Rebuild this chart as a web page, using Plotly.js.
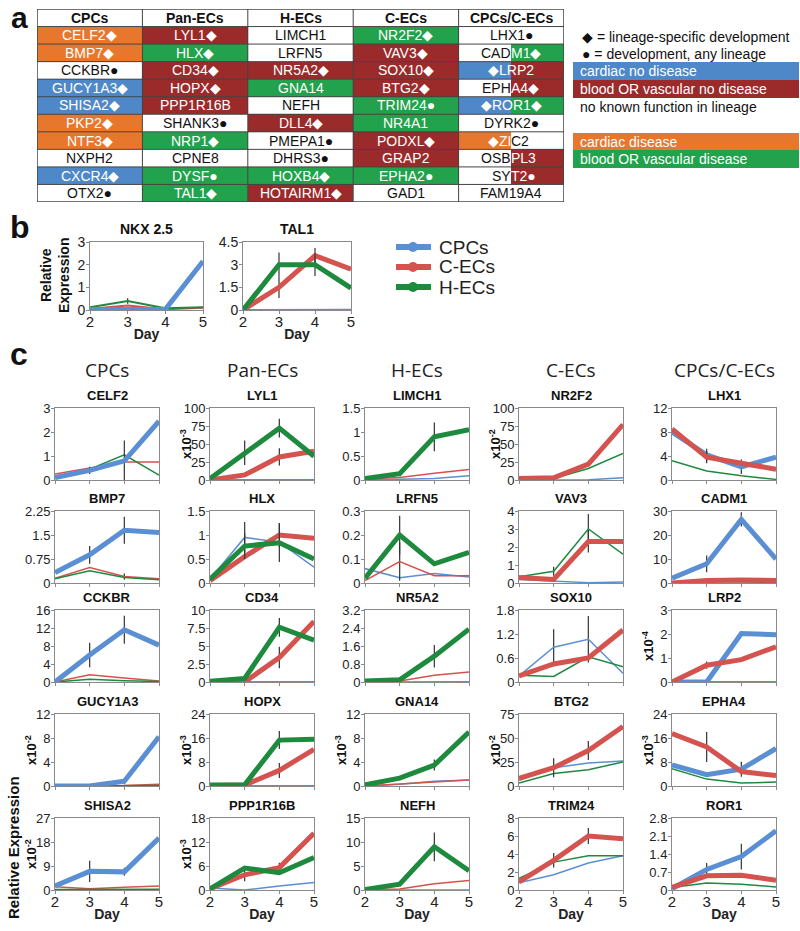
<!DOCTYPE html>
<html>
<head>
<meta charset="utf-8">
<script src="https://cdn.plot.ly/plotly-3.0.1.min.js"></script>
<style>body{margin:0;background:#fff;} #chart{width:800px;height:931px;}</style>
</head>
<body>
<div id="chart"></div>
<script>
// ---------- panel a : gene table ----------
var tableHeaders = ["CPCs", "Pan-ECs", "H-ECs", "C-ECs", "CPCs/C-ECs"];
var cpcGenes = ["CELF2◆", "BMP7◆", "CCKBR●", "GUCY1A3◆", "SHISA2◆", "PKP2◆", "NTF3◆", "NXPH2", "CXCR4◆", "OTX2●"];
var cpcColors = ["O", "O", "W", "B", "B", "O", "O", "W", "B", "W"];
var panGenes = ["LYL1◆", "HLX◆", "CD34◆", "HOPX◆", "PPP1R16B", "SHANK3●", "NRP1◆", "CPNE8", "DYSF●", "TAL1◆"];
var panColors = ["R", "G", "R", "R", "R", "W", "G", "W", "G", "G"];
var hecGenes = ["LIMCH1", "LRFN5", "NR5A2◆", "GNA14", "NEFH", "DLL4◆", "PMEPA1●", "DHRS3●", "HOXB4◆", "HOTAIRM1◆"];
var hecColors = ["W", "W", "R", "G", "W", "R", "W", "W", "G", "R"];
var cecGenes = ["NR2F2◆", "VAV3◆", "SOX10◆", "BTG2◆", "TRIM24●", "NR4A1", "PODXL◆", "GRAP2", "EPHA2●", "GAD1"];
var cecColors = ["G", "R", "R", "R", "G", "G", "R", "R", "G", "W"];
// last column: cells are split in two halves
var sharedLeftText = ["LHX1●", "CAD", "◆LRP2", "EPH", "◆ROR1◆", "DYRK2●", "◆ZI", "OSB", "SY", "FAM19A4"];
var sharedRightText = ["", "M1◆", "", "A4◆", "", "", "C2", "PL3", "T2●", ""];
var sharedLeftColors = ["W", "W", "B", "W", "B", "W", "O", "W", "W", "W"];
var sharedRightColors = ["W", "G", "R", "R", "G", "W", "W", "R", "R", "W"];

var keyLabels = ["cardiac no disease", "blood OR vascular no disease", "no known function in lineage", "cardiac disease", "blood OR vascular disease"];
var keyColors = ["B", "R", "W", "O", "G"];

// ---------- panel b ----------
var days = [2, 3, 4, 5];
var seriesNames = ["CPCs", "C-ECs", "H-ECs"];
var bGenes = ["NKX 2.5", "TAL1"];
var bCpc = [[0.02, 0.02, 0.03, 2.15], [0, 0, 0, 0.02]];
var bCec = [[0.05, 0.2, 0.03, 0.1], [0, 1.5, 3.6, 2.7]];
var bHec = [[0.12, 0.4, 0.08, 0.12], [0, 3.0, 3.0, 1.45]];
var bErrCpc = [[0, 0, 0, 0], [0, 0, 0, 0]];
var bErrCec = [[0, 0, 0, 0], [0, 0.7, 0.5, 0]];
var bErrHec = [[0, 0.12, 0, 0], [0, 0.8, 0.75, 0]];
var bMax = [3, 4.5];
var bStep = [1, 1.5];

// ---------- panel c (row by row, 5 per row) ----------
var cColumns = ["CPCs", "Pan-ECs", "H-ECs", "C-ECs", "CPCs/C-ECs"];
var cGenes = ["CELF2", "LYL1", "LIMCH1", "NR2F2", "LHX1",
  "BMP7", "HLX", "LRFN5", "VAV3", "CADM1",
  "CCKBR", "CD34", "NR5A2", "SOX10", "LRP2",
  "GUCY1A3", "HOPX", "GNA14", "BTG2", "EPHA4",
  "SHISA2", "PPP1R16B", "NEFH", "TRIM24", "ROR1"];
var cMax = [3, 100, 1.5, 100, 12,
  2.25, 1.5, 0.3, 4, 30,
  16, 10, 3.2, 1.8, 3,
  12, 24, 12, 75, 24,
  27, 18, 15, 8, 2.8];
var cStep = [1, 25, 0.5, 25, 4,
  0.75, 0.5, 0.1, 1, 10,
  4, 2.5, 0.8, 0.6, 1,
  4, 8, 4, 25, 8,
  9, 6, 5, 2, 0.7];
var cScale = ["", "-3", "", "-2", "",
  "", "", "", "", "",
  "", "", "", "", "-4",
  "-2", "-3", "-3", "-2", "-3",
  "-2", "-3", "", "", ""];

var cCpc = [
  [0.1, 0.4, 0.8, 2.45], [0.4, 0.4, 0.4, 0.4], [0, 0.02, 0.03, 0.09], [0, 0, 0.3, 3], [8, 4.2, 2.2, 3.8],
  [0.33, 0.88, 1.65, 1.58], [0.08, 0.95, 0.85, 0.33], [0.06, 0.022, 0.04, 0.025], [0.2, 0.1, 0.02, 0.05], [2, 8, 26.5, 10],
  [0, 6, 11.6, 8.2], [0, 0, 0.02, 0.05], [0, 0, 0.01, 0.01], [0.15, 0.87, 1.07, 0.22], [0, 0, 2.02, 1.97],
  [0, 0, 0.8, 8.2], [0, 0, 0.1, 0.1], [0, 0.3, 0.8, 1.0], [6, 19, 24, 26], [7, 3.8, 5.6, 12.5],
  [1.5, 7, 6.8, 19.5], [0.5, 0, 1, 1.9], [0, 0, 0, 0], [0.8, 1.7, 3.0, 3.8], [0.05, 0.8, 1.3, 2.3]];
var cCec = [
  [0.25, 0.5, 0.75, 0.75], [0, 7, 32, 40], [0.02, 0.05, 0.14, 0.22], [2, 3, 22, 77], [8.5, 3.8, 2.8, 1.8],
  [0.15, 0.48, 0.2, 0.13], [0.05, 0.55, 1.0, 0.93], [0.01, 0.089, 0.03, 0.03], [0.3, 0.2, 2.3, 2.3], [0, 1, 1.3, 1],
  [0, 1.6, 0.9, 0.2], [0, 0, 3.4, 8.4], [0, 0.05, 0.3, 0.45], [0.15, 0.45, 0.6, 1.3], [0, 0.7, 0.93, 1.47],
  [0.05, 0.05, 0.1, 0.3], [0.2, 0.3, 5.2, 12.2], [0, 0.3, 0.6, 1.0], [8, 19, 37, 62], [17.5, 13, 4.8, 3.5],
  [1.2, 0.5, 1.0, 1.5], [0.3, 3.8, 5.6, 14.2], [0, 0.2, 1.3, 2.0], [0.9, 3.3, 6.0, 5.7], [0.1, 0.55, 0.57, 0.38]];
var cHec = [
  [0.1, 0.45, 1.05, 0.2], [2, 38, 72, 33], [0.03, 0.13, 0.9, 1.05], [0, 2, 16, 37], [3.2, 1.5, 0.7, 0.1],
  [0.13, 0.38, 0.17, 0.1], [0.08, 0.77, 0.84, 0.5], [0.02, 0.2, 0.08, 0.128], [0.35, 0.65, 3.0, 1.6], [0, 0.5, 0.5, 0.2],
  [0, 0.6, 0.3, 0.1], [0.1, 0.5, 7.6, 5.8], [0.05, 0.1, 1.15, 2.35], [0.17, 0.14, 0.63, 0.38], [0, 0, 0, 0],
  [0, 0, 0.05, 0.1], [0.3, 0.4, 15.3, 15.6], [0.2, 1.3, 3.5, 9], [3, 13, 17, 25], [5.8, 2.3, 1.0, 1.3],
  [0.2, 0.2, 0.3, 0.3], [0.3, 5.5, 4.3, 8.1], [0.1, 1.2, 9, 4], [1.3, 3.1, 3.8, 3.8], [0.1, 0.27, 0.22, 0.12]];

// error bar half lengths
var z4 = [0, 0, 0, 0];
var cErrCpc = [
  [0, 0.15, 0.85, 0], z4, z4, z4, [0, 1.0, 1.2, 0],
  [0, 0.28, 0.42, 0], [0, 0.32, 0, 0], z4, z4, [0, 3.5, 3.0, 0],
  [0, 2.7, 3.1, 0], z4, z4, [0, 0.45, 0.58, 0], z4,
  [0, 0, 0.5, 0], z4, z4, z4, [0, 0, 2.5, 0],
  [0, 4, 1.5, 0], z4, z4, z4, [0, 0.25, 0.5, 0]];
var cErrCec = [
  z4, [0, 0, 12, 0], z4, [0, 0, 3, 0], [0, 1.0, 0, 0],
  [0, 0, 0.1, 0], [0, 0, 0.25, 0], [0, 0.08, 0, 0], [0, 0, 0.6, 0], z4,
  z4, [0, 0, 1.5, 0], z4, z4, [0, 0.15, 0, 0],
  z4, [0, 0, 2.5, 0], z4, [0, 10, 10, 0], [0, 5, 0, 0],
  z4, [0, 1.6, 1.2, 0], z4, [0, 0.8, 0.9, 0], z4];
var cErrHec = [
  z4, [0, 17, 13, 0], [0, 0.05, 0.3, 0], z4, z4,
  z4, [0, 0.27, 0.4, 0], [0, 0.08, 0, 0], [0, 0.25, 0.83, 0], z4,
  z4, [0, 0, 1.3, 0], [0, 0, 0.5, 0], z4, z4,
  z4, [0, 0, 3, 0], [0, 0, 0.9, 0], z4, z4,
  z4, z4, [0, 0, 3, 0], z4, z4];

// which series are drawn thick (cpc, cec, hec) per column
var cThick = [[true, false, false], [false, true, true], [false, false, true], [false, true, false], [true, true, false]];
var bThick = [[true, false, false], [false, true, true]];

// ---------- styles ----------
var W = 800, H = 931;
var FONT = "Liberation Sans, Arial, sans-serif";
var lineColors = ["#5b8fd4", "#d4534f", "#1d8a3e"];
var palette = {W: "#ffffff", O: "#e8772e", G: "#22a24c", B: "#4f88c9", R: "#9b2a2b"};
var code = {W: 0, O: 1, G: 2, B: 3, R: 4};
var axisGray = "#8a8a8a";

function xd(a, b) { return [a / W, b / W]; }
function yd(top, bot) { return [1 - bot / H, 1 - top / H]; }
function px(x) { return x / W; }
function py(y) { return 1 - y / H; }

var traces = [];
var layout = {
  width: W, height: H, margin: {l: 0, r: 0, t: 0, b: 0},
  paper_bgcolor: "#fff", plot_bgcolor: "rgba(0,0,0,0)",
  font: {family: FONT, color: "#222"},
  showlegend: false,
  annotations: [], shapes: []
};

function note(x, y, text, size, opts) {
  var a = {xref: "paper", yref: "paper", x: px(x), y: py(y), text: text, showarrow: false,
    xanchor: "center", yanchor: "middle", font: {size: size, color: "#111"}};
  for (var k in (opts || {})) a[k] = opts[k];
  layout.annotations.push(a);
}

function addLine(n, y, err, s, thick, thinW) {
  traces.push({
    x: days, y: y, type: "scatter", mode: "lines",
    xaxis: n === 1 ? "x" : "x" + n, yaxis: n === 1 ? "y" : "y" + n,
    line: {color: lineColors[s], width: thick ? 5 : thinW},
    error_y: {type: "data", array: err, visible: true, color: "#333", thickness: 1.2, width: 0},
    showlegend: false, hoverinfo: "skip"
  });
}

function addAxes(n, xpx, ypx, yMax, step, opts) {
  var xs = n === 1 ? "xaxis" : "xaxis" + n, ys = n === 1 ? "yaxis" : "yaxis" + n;
  layout[xs] = {
    domain: xd(xpx[0], xpx[1]), range: [2, 5], anchor: n === 1 ? "y" : "y" + n,
    showline: true, mirror: true, linecolor: axisGray, linewidth: 1,
    ticks: "outside", ticklen: 3, tickcolor: axisGray, tickvals: days, ticklabelstandoff: -5,
    showticklabels: opts.xlabels, tickfont: {size: 15, color: "#222"},
    showgrid: false, zeroline: false, fixedrange: true
  };
  if (opts.xlabels) layout[xs].title = {text: "<b>Day</b>", font: {size: 14, color: "#222"}, standoff: 0};
  layout[ys] = {
    domain: yd(ypx[0], ypx[1]), range: [0, yMax], anchor: n === 1 ? "x" : "x" + n,
    showline: true, mirror: true, linecolor: axisGray, linewidth: 1,
    ticks: "outside", ticklen: 3, tickcolor: axisGray, tick0: 0, dtick: step, ticklabelstandoff: -2,
    tickfont: {size: opts.tickSize, color: "#222"},
    showgrid: false, zeroline: false, fixedrange: true
  };
  note((xpx[0] + xpx[1]) / 2, ypx[0] - 3, "<b>" + opts.title + "</b>", opts.titleSize, {yanchor: "bottom"});
  if (opts.scale) {
    note(xpx[0] - 24, (ypx[0] + ypx[1]) / 2, "<b>x10<sup>" + opts.scale + "</sup></b>", 13, {textangle: -90});
  }
}

// ----- panel b -----
var bX = [[90, 203], [243, 351]];
for (var i = 0; i < 2; i++) {
  var n = i + 1;
  addAxes(n, bX[i], [242, 310], bMax[i], bStep[i], {xlabels: true, tickSize: 14, title: bGenes[i], titleSize: 14});
  var vals = [bCpc[i], bCec[i], bHec[i]], errs = [bErrCpc[i], bErrCec[i], bErrHec[i]];
  for (var pass = 0; pass < 2; pass++) {
    for (var s = 0; s < 3; s++) {
      if (bThick[i][s] === (pass === 1)) addLine(n, vals[s], errs[s], s, bThick[i][s], 2);
    }
  }
}
note(55, 276, "<b>Relative<br>Expression</b>", 14, {textangle: -90});
// series key for panel b
var keyY = [247, 267, 287];
for (var s = 0; s < 3; s++) {
  layout.shapes.push({type: "line", xref: "paper", yref: "paper", x0: px(396), x1: px(431), y0: py(keyY[s]), y1: py(keyY[s]),
    line: {color: lineColors[s], width: 6}});
  layout.shapes.push({type: "circle", xref: "paper", yref: "paper", x0: px(408), x1: px(418), y0: py(keyY[s] + 5), y1: py(keyY[s] - 5),
    fillcolor: lineColors[s], line: {width: 0}});
  note(437, keyY[s], seriesNames[s], 19, {xanchor: "left", font: {size: 19, color: "#222"}});
}

// ----- panel c -----
var colLeft = [55, 210, 365, 519, 672], colW = 104;
var rowTop = [408, 511, 610, 714, 818], rowH = 72;
for (var k = 0; k < 25; k++) {
  var r = Math.floor(k / 5), c = k % 5, n = k + 3;
  addAxes(n, [colLeft[c], colLeft[c] + colW], [rowTop[r], rowTop[r] + rowH], cMax[k], cStep[k],
    {xlabels: r === 4, tickSize: 13, title: cGenes[k], titleSize: 13, scale: cScale[k]});
  var vals = [cCpc[k], cCec[k], cHec[k]], errs = [cErrCpc[k], cErrCec[k], cErrHec[k]];
  for (var pass = 0; pass < 2; pass++) {
    for (var s = 0; s < 3; s++) {
      if (cThick[c][s] === (pass === 1)) addLine(n, vals[s], errs[s], s, cThick[c][s], 1.5);
    }
  }
}
for (var c = 0; c < 5; c++) {
  note(colLeft[c] + colW / 2, 370, cColumns[c], 19, {font: {family: "Open Sans, sans-serif", size: 19, color: "#222"}});
}
note(13, 848, "<b>Relative Expression</b>", 15, {textangle: -90});

// ----- panel a table (heatmap on its own axes) -----
var T = 28;
var tableCols = [[cpcGenes, cpcColors], [panGenes, panColors], [hecGenes, hecColors], [cecGenes, cecColors]];
var z = [[0, 0, 0, 0, 0, 0, 0, 0, 0, 0]];
for (var r = 0; r < 10; r++) {
  var row = [];
  tableCols.forEach(function (tc) { row.push(code[tc[1][r]], code[tc[1][r]]); });
  row.push(code[sharedLeftColors[r]], code[sharedRightColors[r]]);
  z.push(row);
}
var halfX = [], rowY = [];
for (var i = 0; i < 10; i++) halfX.push(i * 0.5 + 0.25);
for (var i = 0; i < 11; i++) rowY.push(i + 0.5);
traces.push({type: "heatmap", z: z, x: halfX, y: rowY, xaxis: "x" + T, yaxis: "y" + T,
  zmin: 0, zmax: 4, showscale: false, hoverinfo: "skip",
  colorscale: [[0, palette.W], [0.125, palette.W], [0.125, palette.O], [0.375, palette.O], [0.375, palette.G],
    [0.625, palette.G], [0.625, palette.B], [0.875, palette.B], [0.875, palette.R], [1, palette.R]]});
layout["xaxis" + T] = {domain: xd(37, 564), range: [0, 5], visible: false, fixedrange: true, anchor: "y" + T};
layout["yaxis" + T] = {domain: yd(9, 202), range: [11, 0], visible: false, fixedrange: true, anchor: "x" + T};

function cellText(x, y, text, col, anchor) {
  layout.annotations.push({xref: "x" + T, yref: "y" + T, x: x, y: y, text: text, showarrow: false,
    xanchor: anchor, yanchor: "middle", borderpad: 0, borderwidth: 0,
    font: {size: 14, color: col === "W" ? "#111" : "#fff"}});
}
tableHeaders.forEach(function (h, c) {
  layout.annotations.push({xref: "x" + T, yref: "y" + T, x: c + 0.5, y: 0.5, text: "<b>" + h + "</b>",
    showarrow: false, font: {size: 14, color: "#111"}});
});
for (var r = 0; r < 10; r++) {
  tableCols.forEach(function (tc, c) { cellText(c + 0.5, r + 1.5, tc[0][r], tc[1][r], "center"); });
  if (sharedRightText[r]) {
    cellText(4.5, r + 1.5, sharedLeftText[r], sharedLeftColors[r], "right");
    cellText(4.5, r + 1.5, sharedRightText[r], sharedRightColors[r], "left");
  } else {
    cellText(4.5, r + 1.5, sharedLeftText[r], sharedLeftColors[r] === "W" && sharedRightColors[r] === "W" ? "W" : "X", "center");
  }
}
// cell borders
for (var i = 0; i <= 5; i++) {
  layout.shapes.push({type: "line", xref: "x" + T, yref: "y" + T, x0: i, x1: i, y0: 0, y1: 11,
    line: {color: "#444", width: (i === 0 || i === 5) ? 1.5 : 1}, layer: "above"});
}
for (var j = 0; j <= 11; j++) {
  layout.shapes.push({type: "line", xref: "x" + T, yref: "y" + T, x0: 0, x1: 5, y0: j, y1: j,
    line: {color: "#444", width: (j === 0 || j === 11) ? 1.5 : 1}, layer: "above"});
}

// table key
var keyTop = [62, 80, 98, 133, 150];
keyLabels.forEach(function (lab, i) {
  if (keyColors[i] !== "W") {
    layout.shapes.push({type: "rect", xref: "paper", yref: "paper", x0: px(573), x1: px(799),
      y0: py(keyTop[i] + 18), y1: py(keyTop[i]), fillcolor: palette[keyColors[i]], line: {width: 0}});
  }
  note(578, keyTop[i] + 9, lab, 14, {xanchor: "left", font: {size: 14, color: keyColors[i] === "W" ? "#111" : "#fff"}});
});
note(580, 37, "◆ = lineage-specific development", 14, {xanchor: "left"});
note(580, 54, "● = development, any lineage", 14, {xanchor: "left"});

// panel letters
note(19, 18, "<b>a</b>", 30);
note(20, 227, "<b>b</b>", 32);
note(19, 354, "<b>c</b>", 32);

Plotly.newPlot("chart", traces, layout, {staticPlot: true, displayModeBar: false});
</script>
</body>
</html>
